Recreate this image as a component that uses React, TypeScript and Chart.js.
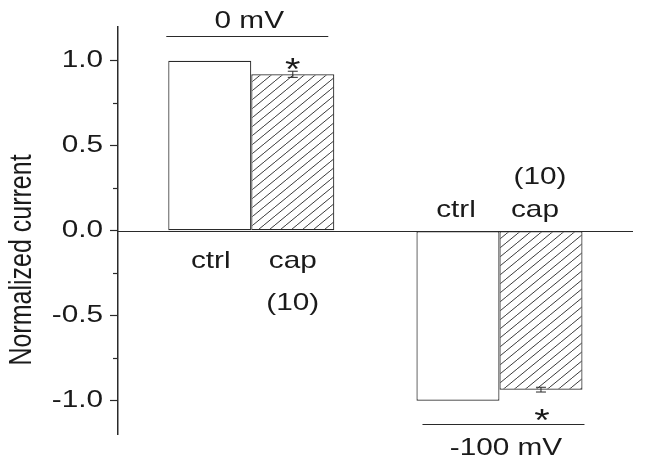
import React, { useEffect, useRef } from 'react';
import { Chart, registerables } from 'chart.js';

Chart.register(...registerables);

// ---- data ----
const groups = ['0 mV', '-100 mV'];
const groupX = [1, 2];
const seriesNames = ['ctrl', 'cap'];
const ctrlValues = [1.0, -1.0];
const capValues = [0.92, -0.935];
const capErrors = [0.018, 0.014];
const nLabels = ['(10)', '(10)'];
const significance = ['*', '*'];
const yTicks = [-1.0, -0.5, 0, 0.5, 1.0];
const yTickLabels = ['-1.0', '-0.5', '0.0', '0.5', '1.0'];
const yMinorTicks = [-0.75, -0.25, 0.25, 0.75];
const yTitle = 'Normalized current';

// ---- style ----
const SX = 1.24; // horizontal text stretch of the original figure
const FONT = '"Liberation Sans", Arial, sans-serif';
const INK = '#1a1a1a';
const LINE = '#2a2a2a';

function makeHatch(): CanvasPattern | string {
  const w = 11;
  const h = 9;
  const c = document.createElement('canvas');
  c.width = w;
  c.height = h;
  const g = c.getContext('2d');
  if (!g) return '#fff';
  g.fillStyle = '#ffffff';
  g.fillRect(0, 0, w, h);
  g.strokeStyle = '#3a3a3a';
  g.lineWidth = 1;
  for (let k = -1; k <= 1; k++) {
    g.beginPath();
    g.moveTo(k * w, h);
    g.lineTo(k * w + w, 0);
    g.stroke();
  }
  const p = g.createPattern(c, 'repeat');
  return p || '#fff';
}

function text(
  ctx: CanvasRenderingContext2D,
  s: string,
  x: number,
  y: number,
  size: number,
  align: CanvasTextAlign = 'center',
  baseline: CanvasTextBaseline = 'alphabetic'
) {
  ctx.save();
  ctx.translate(x, y);
  ctx.scale(SX, 1);
  ctx.font = `${size}px ${FONT}`;
  ctx.fillStyle = INK;
  ctx.textAlign = align;
  ctx.textBaseline = baseline;
  ctx.fillText(s, 0, 0);
  ctx.restore();
}

function hline(ctx: CanvasRenderingContext2D, x1: number, x2: number, y: number, w = 1) {
  ctx.beginPath();
  ctx.moveTo(x1, y);
  ctx.lineTo(x2, y);
  ctx.lineWidth = w;
  ctx.strokeStyle = LINE;
  ctx.stroke();
}

function vline(ctx: CanvasRenderingContext2D, x: number, y1: number, y2: number, w = 1) {
  ctx.beginPath();
  ctx.moveTo(x, y1);
  ctx.lineTo(x, y2);
  ctx.lineWidth = w;
  ctx.strokeStyle = LINE;
  ctx.stroke();
}

const decorPlugin = {
  id: 'decor',
  beforeDatasetsDraw(chart: any) {
    const { ctx, chartArea, scales } = chart;
    const y0 = Math.round(scales.y.getPixelForValue(0)) + 0.5;
    ctx.save();
    hline(ctx, chartArea.left, chartArea.right, y0, 1.2);
    ctx.restore();
  },
  afterDatasetsDraw(chart: any) {
    const { ctx, scales } = chart;
    const ys = scales.y;
    ctx.save();
    // error bars on cap bars
    const meta = chart.getDatasetMeta(1);
    meta.data.forEach((el: any, i: number) => {
      const v = capValues[i];
      const e = capErrors[i];
      const yt = ys.getPixelForValue(v + e);
      const yb = ys.getPixelForValue(v - e);
      vline(ctx, el.x, yt, yb, 1);
      hline(ctx, el.x - 5, el.x + 5, yt, 1);
      hline(ctx, el.x - 5, el.x + 5, yb, 1);
    });
    ctx.restore();
  },
  afterDraw(chart: any) {
    const { ctx, scales, chartArea } = chart;
    const xs = scales.x;
    const ys = scales.y;
    const left = chartArea.left;
    ctx.save();
    // minor ticks
    yMinorTicks.forEach((v) => {
      const yy = Math.round(ys.getPixelForValue(v)) + 0.5;
      hline(ctx, left - 5, left, yy, 1.2);
    });
    // tick labels
    yTicks.forEach((v, i) => {
      text(ctx, yTickLabels[i], left - 15, ys.getPixelForValue(v), 24, 'right', 'middle');
    });
    // y title
    ctx.save();
    ctx.translate(22.5, 260);
    ctx.scale(SX, 1);
    ctx.rotate(-Math.PI / 2);
    ctx.font = `25px ${FONT}`;
    ctx.fillStyle = INK;
    ctx.textAlign = 'center';
    ctx.textBaseline = 'middle';
    ctx.fillText(yTitle, 0, 0);
    ctx.restore();

    const zero = ys.getPixelForValue(0);
    const ctrlMeta = chart.getDatasetMeta(0);
    const capMeta = chart.getDatasetMeta(1);
    groups.forEach((gname, i) => {
      const cx = xs.getPixelForValue(groupX[i]);
      const cxCtrl = ctrlMeta.data[i].x;
      const cxCap = capMeta.data[i].x;
      const pos = ctrlValues[i] > 0;
      const edge = ys.getPixelForValue(ctrlValues[i]);
      if (pos) {
        const ly = Math.round(edge - 25) + 0.5;
        hline(ctx, cx - 85, cx + 77, ly, 1.2);
        text(ctx, gname, cx - 2, edge - 32.4, 24);
        text(ctx, significance[i], cxCap, ys.getPixelForValue(capValues[i]) + 5.6, 32);
        text(ctx, seriesNames[0], cxCtrl + 1, zero + 37.6, 24);
        text(ctx, seriesNames[1], cxCap, zero + 37.6, 24);
        text(ctx, nLabels[i], cxCap, zero + 79.5, 24);
      } else {
        const ly = Math.round(edge + 23.3) + 0.5;
        hline(ctx, cx - 77, cx + 85, ly, 1.2);
        text(ctx, gname, cx + 6.5, edge + 54.3, 24);
        text(ctx, significance[i], cxCap + 1, ys.getPixelForValue(capValues[i]) + 41, 32);
        text(ctx, seriesNames[0], cxCtrl - 2, zero - 14, 24);
        text(ctx, seriesNames[1], cxCap - 6, zero - 14, 24);
        text(ctx, nLabels[i], cxCap - 1, zero - 46.7, 24);
      }
    });
    ctx.restore();
  },
};

export default function App() {
  const ref = useRef<HTMLCanvasElement | null>(null);

  useEffect(() => {
    const canvas = ref.current;
    if (!canvas) return;
    const hatch = makeHatch();
    const chart = new Chart(canvas, {
      type: 'bar',
      data: {
        datasets: [
          {
            label: seriesNames[0],
            data: groupX.map((x, i) => ({ x, y: ctrlValues[i] })),
            backgroundColor: '#ffffff',
            borderColor: LINE,
            borderWidth: 1.2,
            borderSkipped: false,
            categoryPercentage: 0.669,
            barPercentage: 1,
          },
          {
            label: seriesNames[1],
            data: groupX.map((x, i) => ({ x, y: capValues[i] })),
            backgroundColor: hatch as any,
            borderColor: LINE,
            borderWidth: 1.2,
            borderSkipped: false,
            categoryPercentage: 0.669,
            barPercentage: 1,
          },
        ],
      },
      options: {
        responsive: false,
        animation: false,
        layout: { padding: { left: 0, top: 26.7, bottom: 31.3, right: 12 } },
        plugins: {
          legend: { display: false },
          tooltip: { enabled: false },
        },
        scales: {
          x: {
            type: 'linear',
            display: false,
            min: 0.463,
            max: 2.538,
            offset: false,
            afterBuildTicks: (scale: any) => {
              scale.ticks = groupX.map((v) => ({ value: v }));
            },
          },
          y: {
            type: 'linear',
            min: -1.2,
            max: 1.2,
            afterBuildTicks: (scale: any) => {
              scale.ticks = yTicks.map((v) => ({ value: v }));
            },
            afterFit: (scale: any) => {
              scale.width = 118;
            },
            ticks: { display: false },
            grid: {
              drawOnChartArea: false,
              drawTicks: true,
              tickLength: 8,
              tickColor: LINE,
              tickWidth: 1.2,
            },
            border: { display: true, color: LINE, width: 1.5 },
          },
        },
      },
      plugins: [decorPlugin],
    });
    return () => chart.destroy();
  }, []);

  return (
    <div style={{ position: 'absolute', left: 0, top: 0, width: 645, height: 466, background: '#fff' }}>
      <canvas ref={ref} width={645} height={466} style={{ display: 'block' }} />
    </div>
  );
}
